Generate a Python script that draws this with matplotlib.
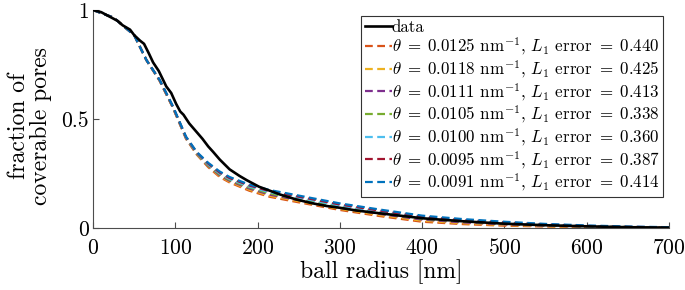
import numpy as np
import matplotlib
matplotlib.use('Agg')
import matplotlib.pyplot as plt

plt.rcParams['font.family'] = 'serif'
plt.rcParams['font.serif'] = ['cmr10', 'DejaVu Serif']
plt.rcParams['mathtext.fontset'] = 'cm'
plt.rcParams['axes.formatter.use_mathtext'] = True

# measured data
data_r = [0, 10, 20, 30, 36, 45, 50, 57, 62, 68, 73, 80, 89, 95, 101, 106, 110,
          117, 125, 133, 140, 146, 154, 166, 178, 187, 202, 215, 227, 247, 266,
          284, 300, 319, 350, 400, 450, 500, 550, 600, 650, 700]
data_f = [1.0, 0.99, 0.97, 0.95, 0.93, 0.91, 0.885, 0.86, 0.845, 0.80, 0.76,
          0.72, 0.65, 0.62, 0.57, 0.535, 0.52, 0.48, 0.445, 0.41, 0.375, 0.35,
          0.315, 0.27, 0.24, 0.22, 0.19, 0.172, 0.155, 0.132, 0.115, 0.102,
          0.094, 0.082, 0.068, 0.046, 0.032, 0.021, 0.014, 0.009, 0.005, 0.003]

# fitted model curves
fit_r = [0, 25, 50, 65, 81, 97, 113, 126, 140, 154, 166, 190, 215, 247, 300,
         350, 400, 450, 500, 550, 600, 650, 700]
fit_0125 = [1.0, 0.965, 0.885, 0.77, 0.675, 0.553, 0.41, 0.338, 0.28, 0.235,
            0.21, 0.172, 0.144, 0.121, 0.084, 0.055, 0.030, 0.019, 0.012,
            0.008, 0.005, 0.003, 0.002]
fit_0118 = [1.0, 0.965, 0.885, 0.77, 0.676, 0.554, 0.412, 0.34, 0.283, 0.239,
            0.214, 0.177, 0.149, 0.126, 0.089, 0.06, 0.035, 0.023, 0.015,
            0.01, 0.006, 0.004, 0.002]
fit_0111 = [1.0, 0.965, 0.885, 0.77, 0.677, 0.555, 0.413, 0.342, 0.286, 0.243,
            0.218, 0.182, 0.154, 0.131, 0.094, 0.065, 0.040, 0.027, 0.018,
            0.012, 0.008, 0.005, 0.003]
fit_0105 = [1.0, 0.965, 0.885, 0.77, 0.678, 0.556, 0.415, 0.344, 0.289, 0.247,
            0.222, 0.187, 0.159, 0.136, 0.099, 0.07, 0.044, 0.031, 0.021,
            0.014, 0.009, 0.006, 0.003]
fit_0100 = [1.0, 0.965, 0.885, 0.77, 0.678, 0.557, 0.416, 0.346, 0.292, 0.251,
            0.226, 0.191, 0.165, 0.142, 0.104, 0.075, 0.049, 0.035, 0.024,
            0.016, 0.01, 0.006, 0.004]
fit_0095 = [1.0, 0.965, 0.885, 0.77, 0.679, 0.558, 0.418, 0.348, 0.296, 0.255,
            0.23, 0.196, 0.17, 0.147, 0.109, 0.08, 0.053, 0.038, 0.027,
            0.018, 0.011, 0.007, 0.004]
fit_0091 = [1.0, 0.965, 0.885, 0.77, 0.68, 0.56, 0.42, 0.35, 0.30, 0.26,
            0.235, 0.2, 0.175, 0.152, 0.114, 0.085, 0.058, 0.042, 0.03,
            0.02, 0.013, 0.008, 0.005]

thetas = ['0.0125', '0.0118', '0.0111', '0.0105', '0.0100', '0.0095', '0.0091']
errors = ['0.440', '0.425', '0.413', '0.338', '0.360', '0.387', '0.414']
fits = [fit_0125, fit_0118, fit_0111, fit_0105, fit_0100, fit_0095, fit_0091]
colors = ['#D95319', '#EDB120', '#7E2F8E', '#77AC30', '#4DBEEE', '#A2142F',
          '#0072BD']

fig = plt.figure(figsize=(6.85, 2.9), dpi=100)
ax = fig.add_axes([0.1358, 0.2128, 0.8408, 0.7527])

ax.plot(data_r, data_f, color='black', lw=1.9, label='data', zorder=3)
for i in range(len(fits)):
    lab = (r'$\theta\;=\;' + thetas[i] + r'$ nm$^{-1}$, $L_1$ error $=\;'
           + errors[i] + '$')
    ax.plot(fit_r, fits[i], color=colors[i], lw=1.6, dashes=(3.5, 2.0),
            label=lab, zorder=2)

ax.set_xlim(0, 700)
ax.set_ylim(0, 1)
ax.set_xticks(np.arange(0, 701, 100))
ax.set_yticks([0, 0.5, 1])
ax.set_yticklabels(['0', '0.5', '1'])
ax.tick_params(direction='in', length=4, width=0.8, colors='#4d4d4d',
               labelcolor='black', labelsize=15.5)
ax.tick_params(axis='x', pad=7)
ax.tick_params(axis='y', pad=3)
for s in ['top', 'right']:
    ax.spines[s].set_visible(False)
for s in ['left', 'bottom']:
    ax.spines[s].set_color('#4d4d4d')
    ax.spines[s].set_linewidth(0.8)

ax.set_xlabel('ball radius [nm]', fontsize=17, labelpad=1)
ax.set_ylabel('fraction of\ncoverable pores', fontsize=17, linespacing=1.0)
ax.yaxis.set_label_coords(-0.071, 0.47)

leg = ax.legend(loc='upper right', bbox_to_anchor=(0.99, 0.9725),
                fontsize=12.2, handlelength=1.6, handletextpad=0.0,
                labelspacing=0.05, borderpad=0.2, borderaxespad=0.0,
                fancybox=False, framealpha=1.0, edgecolor='#333333')
leg.get_frame().set_linewidth(0.8)

fig.savefig('out.png', dpi=100)
